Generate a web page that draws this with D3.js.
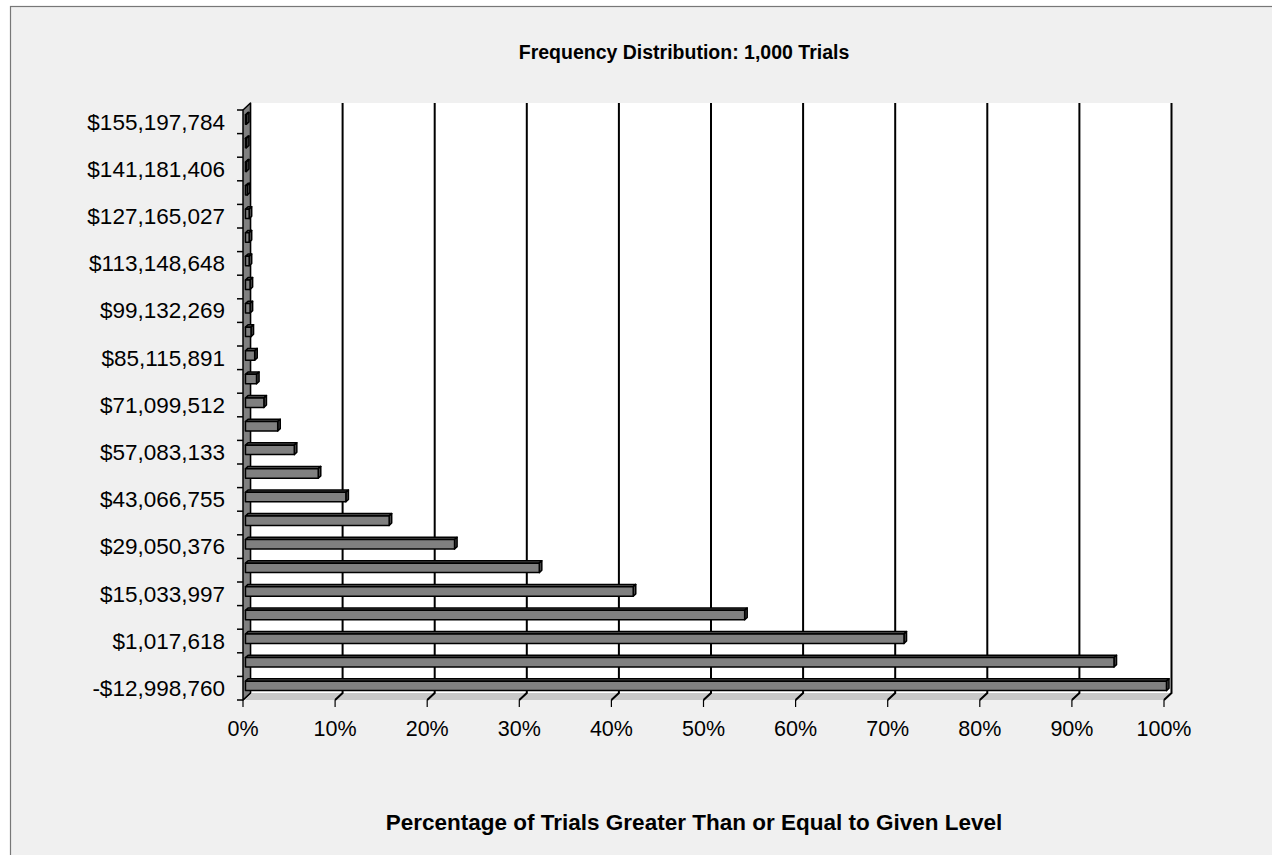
<!DOCTYPE html>
<html>
<head>
<meta charset="utf-8">
<script src="https://cdn.jsdelivr.net/npm/d3@7"></script>
<style>
  html, body { margin: 0; padding: 0; background: #ffffff; }
  svg { display: block; }
  text { font-family: "Liberation Sans", Arial, Helvetica, sans-serif; fill: #000; }
</style>
</head>
<body>
<svg id="chart" width="1272" height="855"></svg>
<script>
// Outcome levels (bin starts), lowest to highest
const levels = [
  -12998760, -5990571, 1017618, 8025808, 15033997, 22042187, 29050376,
  36058565, 43066755, 50074944, 57083133, 64091323, 71099512, 78107701,
  85115891, 92124080, 99132269, 106140459, 113148648, 120156837,
  127165027, 134173216, 141181406, 148189595, 155197784
];

// Percentage of trials greater than or equal to each level
const pctAtOrAbove = [
  100, 94.3, 71.5, 54.2, 42.1, 31.9, 22.7, 15.6, 10.9, 7.9, 5.3, 3.5, 2.0,
  1.2, 1.0, 0.6, 0.5, 0.5, 0.4, 0.4, 0.4, 0.2, 0.1, 0.1, 0.1
];

// Category labels printed on every other level
const levelLabels = [
  "-$12,998,760", "$1,017,618", "$15,033,997", "$29,050,376", "$43,066,755",
  "$57,083,133", "$71,099,512", "$85,115,891", "$99,132,269", "$113,148,648",
  "$127,165,027", "$141,181,406", "$155,197,784"
];

// Percentage axis ticks
const pctTicks = [0, 10, 20, 30, 40, 50, 60, 70, 80, 90, 100];

const chartTitle = "Frequency Distribution: 1,000 Trials";
const xTitle = "Percentage of Trials Greater Than or Equal to Given Level";

const svg = d3.select("#chart");

// chart area with its border
svg.append("rect")
  .attr("x", 10.5).attr("y", 6.5)
  .attr("width", 1300).attr("height", 900)
  .attr("fill", "#f0f0f0")
  .attr("stroke", "#777").attr("stroke-width", 1.2);

// front plane of the 3-D box and the depth offset to the back plane
const front = { left: 243, right: 1164, top: 110, bottom: 700 };
const DX = 7.5, DY = 7;           // back = front + (DX, -DY)
const zFront = 0.33, zBack = 0.67; // bar depth within the box

const x = d3.scaleLinear().domain([0, 100]).range([front.left, front.right]);
const idx = d3.range(levels.length);
const y = d3.scaleBand().domain(idx).range([front.bottom, front.top]).paddingInner(0).paddingOuter(0);
const barThick = y.bandwidth() / 2.5;   // gap width 150%

const pt = (px, py, z) => [px + z * DX, py - z * DY];
const poly = pts => "M" + pts.map(p => p.join(",")).join("L") + "Z";

const g = svg.append("g");

// back wall
g.append("path")
  .attr("d", poly([pt(x(0), front.top, 1), pt(x(100), front.top, 1), pt(x(100), front.bottom, 1), pt(x(0), front.bottom, 1)]))
  .attr("fill", "#ffffff");

// floor
g.append("path")
  .attr("d", poly([pt(x(0), front.bottom, 0), pt(x(100), front.bottom, 0), pt(x(100), front.bottom, 1), pt(x(0), front.bottom, 1)]))
  .attr("fill", "#c8c8c8");

// gridlines on the back wall and across the floor
pctTicks.forEach(t => {
  const b0 = pt(x(t), front.top, 1), b1 = pt(x(t), front.bottom, 1), f1 = pt(x(t), front.bottom, 0);
  g.append("path")
    .attr("d", `M${b0}L${b1}L${f1}`)
    .attr("fill", "none").attr("stroke", "#000").attr("stroke-width", t === 0 ? 1.2 : 2);
});

// side wall
g.append("path")
  .attr("d", poly([pt(x(0), front.top, 0), pt(x(0), front.top, 1), pt(x(0), front.bottom, 1), pt(x(0), front.bottom, 0)]))
  .attr("fill", "#808080").attr("stroke", "#000").attr("stroke-width", 1.5).attr("stroke-linejoin", "round");

// bars, drawn from the highest level down
const bars = g.append("g");
idx.slice().reverse().forEach(i => {
  const v = pctAtOrAbove[i];
  const cy = y(i) + y.bandwidth() / 2;
  const yT = cy - barThick / 2, yB = cy + barThick / 2;
  const x0 = x(0), x1 = x(v);
  const bar = bars.append("g")
    .attr("stroke", "#000").attr("stroke-width", 1.5).attr("stroke-linejoin", "round");
  // top face
  bar.append("path")
    .attr("d", poly([pt(x0, yT, zFront), pt(x1, yT, zFront), pt(x1, yT, zBack), pt(x0, yT, zBack)]))
    .attr("fill", "#5a5a5a");
  // end face
  bar.append("path")
    .attr("d", poly([pt(x1, yT, zFront), pt(x1, yT, zBack), pt(x1, yB, zBack), pt(x1, yB, zFront)]))
    .attr("fill", "#4a4a4a");
  // front face
  bar.append("path")
    .attr("d", poly([pt(x0, yT, zFront), pt(x1, yT, zFront), pt(x1, yB, zFront), pt(x0, yB, zFront)]))
    .attr("fill", "#808080");
});

// category axis: tick marks at every band edge, labels on every other level
const yEdges = d3.range(levels.length + 1).map(k => front.bottom - k * y.step());
g.append("g").selectAll("line").data(yEdges).join("line")
  .attr("x1", front.left - 6).attr("x2", front.left)
  .attr("y1", d => d).attr("y2", d => d)
  .attr("stroke", "#000").attr("stroke-width", 1.5);

const labelled = idx.filter(i => i % 2 === 0);
g.append("g").selectAll("text").data(labelled).join("text")
  .attr("x", front.left - 18)
  .attr("y", i => y(i) + y.bandwidth() / 2)
  .attr("dy", "0.35em")
  .attr("text-anchor", "end")
  .attr("font-size", 22.5)
  .text(i => levelLabels[i / 2]);

// percentage axis
g.append("g").selectAll("line").data(pctTicks).join("line")
  .attr("x1", d => x(d)).attr("x2", d => x(d))
  .attr("y1", front.bottom).attr("y2", front.bottom + 7)
  .attr("stroke", "#000").attr("stroke-width", 1.2);

g.append("g").selectAll("text").data(pctTicks).join("text")
  .attr("x", d => x(d))
  .attr("y", front.bottom + 28.5)
  .attr("dy", "0.35em")
  .attr("text-anchor", "middle")
  .attr("font-size", 21.5)
  .text(d => d3.format(".0%")(d / 100));

// titles
svg.append("text")
  .attr("x", 684).attr("y", 52).attr("dy", "0.35em")
  .attr("text-anchor", "middle").attr("font-size", 19.5).attr("font-weight", "bold")
  .text(chartTitle);

svg.append("text")
  .attr("x", 694).attr("y", 822).attr("dy", "0.35em")
  .attr("text-anchor", "middle").attr("font-size", 22.5).attr("font-weight", "bold")
  .text(xTitle);
</script>
</body>
</html>
